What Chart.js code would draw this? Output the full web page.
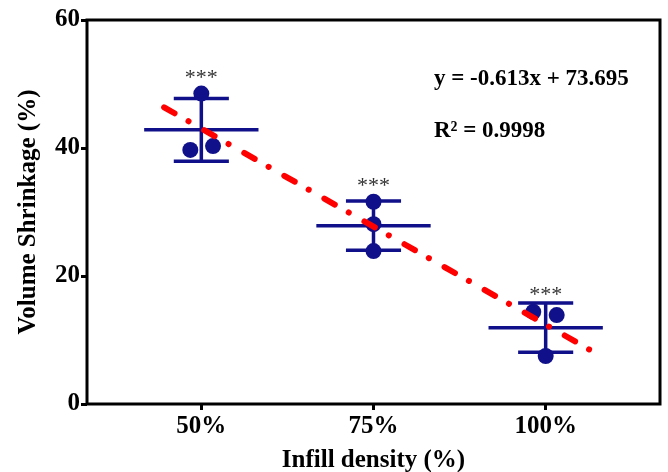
<!DOCTYPE html>
<html><head><meta charset="utf-8">
<script src="https://cdn.jsdelivr.net/npm/chart.js@4"></script>
<style>html,body{margin:0;padding:0;background:#fff}#wrap{width:668px;height:472px}</style>
</head><body><div id="wrap"><canvas id="c" width="668" height="472"></canvas></div>
<script>
const categories = ['50%', '75%', '100%'];
const infillDensity = [50, 75, 100];
const shrinkage = [[48.5, 39.7, 40.3], [31.6, 28.1, 23.9], [14.4, 13.9, 7.5]];
const jitterX = [[0, -1.6, 1.7], [0, 0, 0], [-1.8, 1.6, 0]];
const yTicks = [0, 20, 40, 60];
const fitSlope = -0.613, fitIntercept = 73.695, fitR2 = 0.9998;
const fitRangeX = [44.6, 106.8];
const significance = ['***', '***', '***'];

const NAVY = '#10108a';
const SERIF = '"Liberation Serif", "Times New Roman", serif';
const meanHalf = 8.3, capHalf = 4.0;

function stats(a) {
  const m = a.reduce((s, v) => s + v, 0) / a.length;
  const sd = Math.sqrt(a.reduce((s, v) => s + (v - m) * (v - m), 0) / (a.length - 1));
  return { m, sd };
}

const datasets = [];
datasets.push({
  type: 'line', label: 'fit',
  data: fitRangeX.map(x => ({ x, y: fitSlope * x + fitIntercept })),
  borderColor: '#ff0000', borderWidth: 6, borderDash: [12, 16, 0.1, 18],
  borderCapStyle: 'round', pointRadius: 0, order: 0
});
infillDensity.forEach((c, i) => {
  const { m, sd } = stats(shrinkage[i]);
  datasets.push({
    type: 'scatter', label: categories[i],
    data: shrinkage[i].map((v, j) => ({ x: c + jitterX[i][j], y: v })),
    backgroundColor: NAVY, borderWidth: 0, pointRadius: 8, order: 1
  });
  datasets.push({
    type: 'line', label: 'mean ' + categories[i],
    data: [{ x: c - meanHalf, y: m }, { x: c + meanHalf, y: m }],
    borderColor: NAVY, borderWidth: 3.5, pointRadius: 0, order: 2
  });
  datasets.push({
    type: 'line', label: 'sd ' + categories[i], spanGaps: false,
    data: [
      { x: c - capHalf, y: m + sd }, { x: c + capHalf, y: m + sd }, { x: c, y: null },
      { x: c, y: m + sd }, { x: c, y: m - sd }, { x: c + 0.01, y: null },
      { x: c - capHalf, y: m - sd }, { x: c + capHalf, y: m - sd }
    ],
    borderColor: NAVY, borderWidth: 3.5, pointRadius: 0, order: 2
  });
});

const decor = {
  id: 'decor',
  afterDatasetsDraw(chart) {
    const ctx = chart.ctx, xs = chart.scales.x, ys = chart.scales.y;
    ctx.save();
    ctx.fillStyle = '#333';
    ctx.font = '22px ' + SERIF;
    ctx.textAlign = 'center';
    ctx.textBaseline = 'alphabetic';
    infillDensity.forEach((c, i) => {
      const { m, sd } = stats(shrinkage[i]);
      const topPt = Math.min(ys.getPixelForValue(m + sd), ys.getPixelForValue(Math.max(...shrinkage[i])) - 8);
      ctx.fillText(significance[i], xs.getPixelForValue(c), topPt - 2);
    });
    ctx.fillStyle = '#000';
    ctx.font = 'bold 23px ' + SERIF;
    ctx.textAlign = 'left';
    ctx.fillText('y = ' + fitSlope + 'x + ' + fitIntercept, 434, 85);
    ctx.fillText('R² = ' + fitR2, 434, 137);
    ctx.restore();
  },
  afterDraw(chart) {
    const a = chart.chartArea, ctx = chart.ctx;
    ctx.save();
    ctx.strokeStyle = '#000';
    ctx.lineWidth = 3;
    ctx.strokeRect(a.left, a.top, a.right - a.left, a.bottom - a.top);
    ctx.restore();
  }
};

new Chart(document.getElementById('c'), {
  data: { datasets },
  options: {
    responsive: false, animation: false, devicePixelRatio: 1,
    layout: { padding: { top: 20, right: 5, bottom: 0, left: 0 } },
    plugins: { legend: { display: false }, tooltip: { enabled: false } },
    scales: {
      x: {
        type: 'linear', min: 33.4, max: 116.6,
        afterBuildTicks: s => { s.ticks = infillDensity.map(v => ({ value: v })); },
        afterFit: s => { s.height = 68; },
        ticks: { callback: (v) => categories[infillDensity.indexOf(v)], color: '#000', font: { family: SERIF, size: 25, weight: 'bold' }, padding: 2, maxRotation: 0 },
        grid: { display: true, drawOnChartArea: false, drawTicks: true, tickLength: 6, lineWidth: 3, color: '#000' },
        border: { display: false },
        title: { display: true, text: 'Infill density (%)', color: '#000', font: { family: SERIF, size: 25, weight: 'bold' }, padding: { top: 0, bottom: -4 } }
      },
      y: {
        type: 'linear', min: 0, max: 60,
        afterBuildTicks: s => { s.ticks = yTicks.map(v => ({ value: v })); },
        afterFit: s => { s.width = 87; },
        ticks: { color: '#000', font: { family: SERIF, size: 25, weight: 'bold' }, padding: 1 },
        grid: { display: true, drawOnChartArea: false, drawTicks: true, tickLength: 6, lineWidth: 3, color: '#000' },
        border: { display: false },
        title: { display: true, text: 'Volume Shrinkage (%)', color: '#000', font: { family: SERIF, size: 25, weight: 'bold' }, padding: { top: 14, bottom: 0 } }
      }
    }
  },
  plugins: [decor]
});
</script></body></html>
